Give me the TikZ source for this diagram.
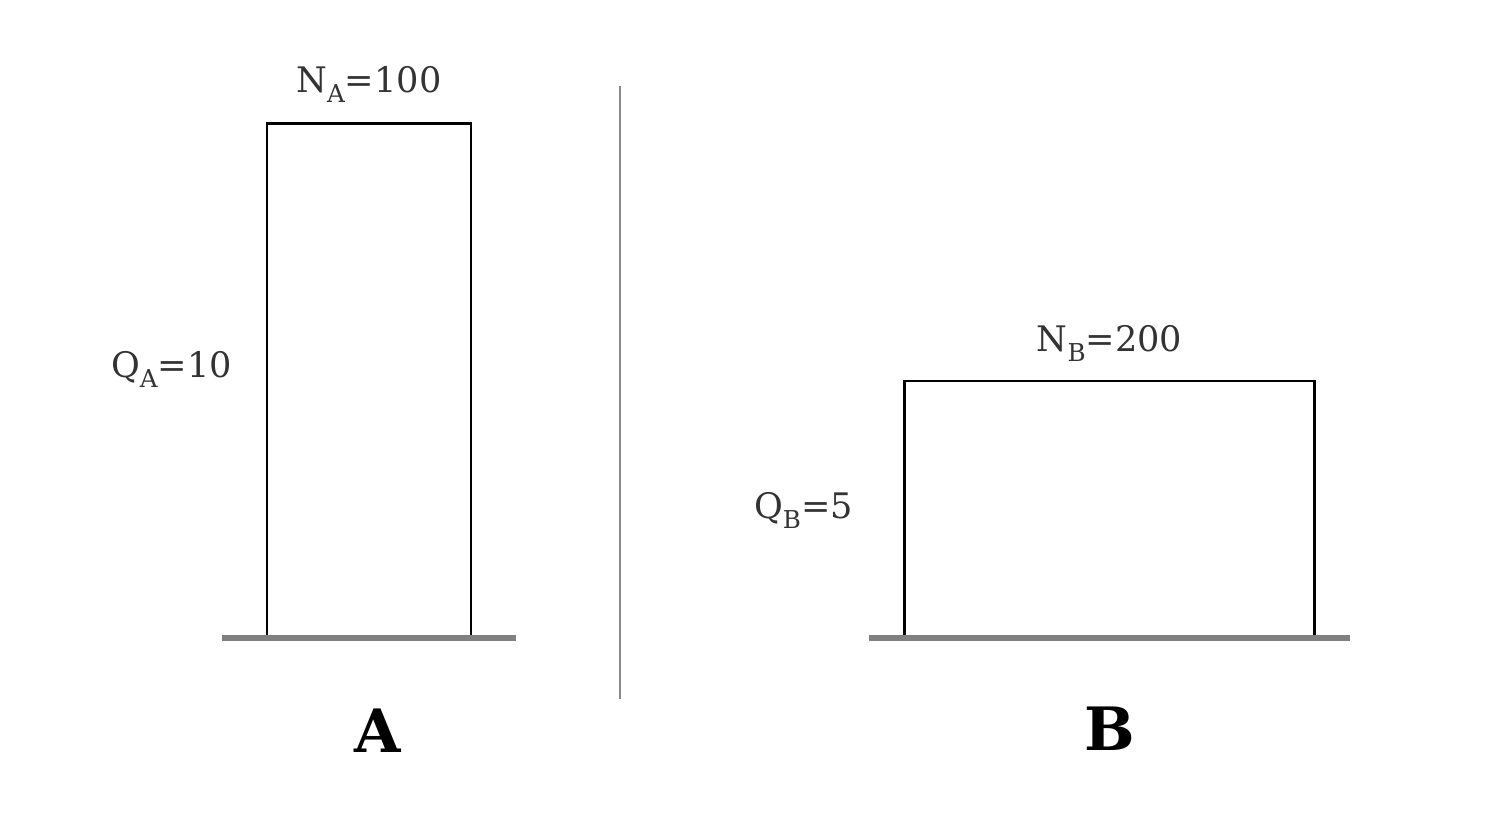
\documentclass[tikz,border=0pt]{standalone}
\usepackage{fontspec}
\setmainfont{DejaVu Serif}
\usetikzlibrary{positioning}
\definecolor{ground}{HTML}{808080}
\definecolor{divider}{HTML}{8A8A8A}
\definecolor{ink}{HTML}{333333}
\newcommand{\lowsub}[1]{\raisebox{-0.6ex}{\scriptsize #1}}
\tikzset{
  bar/.style={draw=black, line width=0.8pt, inner sep=0pt, minimum width=#1},
  quantity/.style={text=ink, font=\fontsize{10}{12}\selectfont, anchor=base, inner sep=0pt},
  caption/.style={font=\fontsize{17}{20}\selectfont\bfseries, anchor=base, inner sep=0pt},
  floor/.style={draw=ground, line width=1.6pt}
}
\begin{document}
\begin{tikzpicture}[x=0.01cm, y=0.01cm]
  \useasboundingbox (0,0) rectangle (1500,814);
  % Bar A
  \node[bar=2.04cm, minimum height=5.13cm] (barA) at (369,433.5) {};
  \draw[floor] (222,176) -- (516,176);
  \node[quantity] (nA) at (369,722) {N\lowsub{A}=100};
  \node[quantity] (qA) at (171.5,437) {Q\lowsub{A}=10};
  \node[caption] (capA) at (378,62) {A};
  % Divider
  \draw[draw=divider, line width=0.8pt] (620,728) -- (620,115);
  % Bar B
  \node[bar=4.09cm, minimum height=2.56cm] (barB) at (1109.5,305) {};
  \draw[floor] (869,176) -- (1350,176);
  \node[quantity] (nB) at (1109.5,463) {N\lowsub{B}=200};
  \node[quantity] (qB) at (803.5,296) {Q\lowsub{B}=5};
  \node[caption] (capB) at (1110,64) {B};
\end{tikzpicture}
\end{document}
